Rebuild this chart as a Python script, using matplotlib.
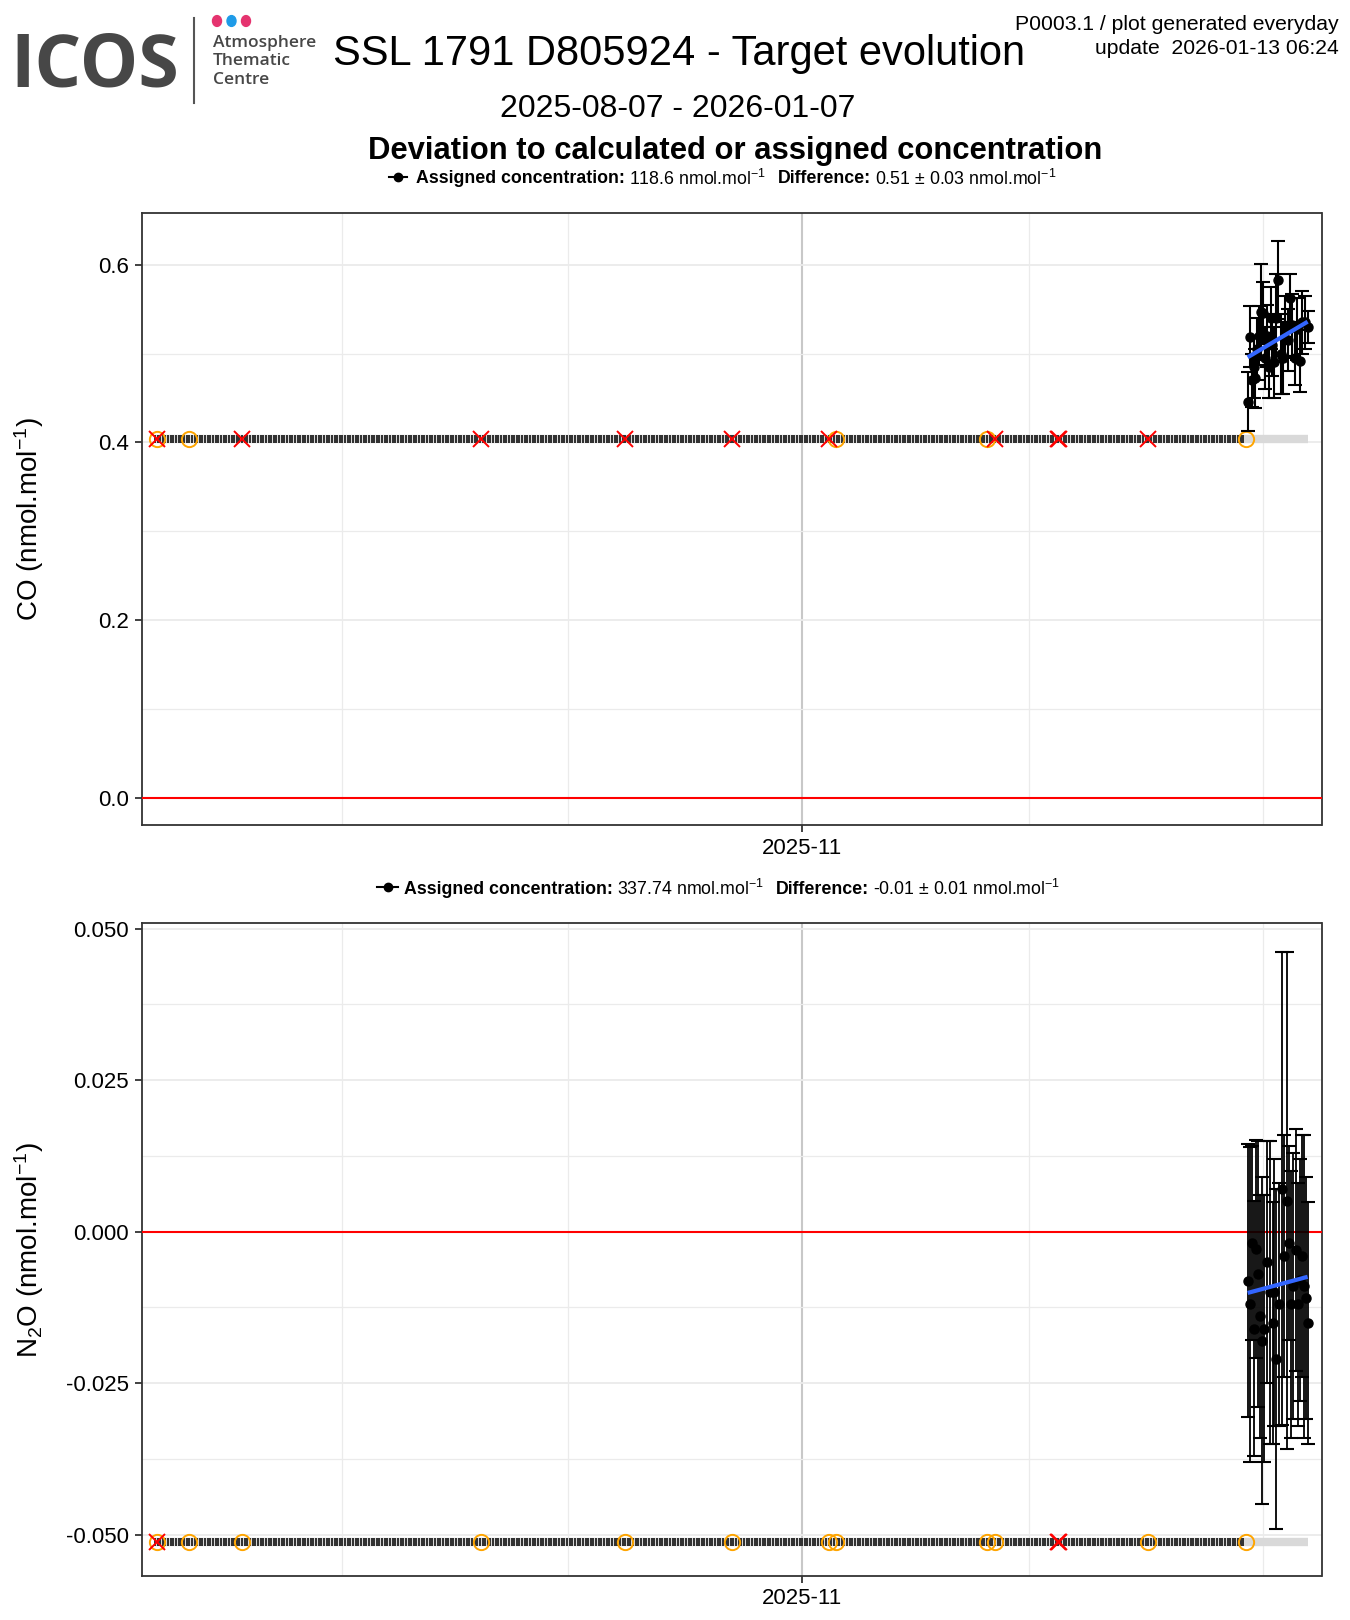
import numpy as np
import pandas as pd
import matplotlib
matplotlib.use("Agg")
from matplotlib import pyplot as plt
import matplotlib.dates as mdates
from matplotlib.lines import Line2D
from matplotlib.patches import Circle
from matplotlib.ticker import MultipleLocator, FixedLocator

plt.rcParams['font.family'] = ['Liberation Sans', 'DejaVu Sans']
plt.rcParams['mathtext.fontset'] = 'custom'
plt.rcParams['mathtext.rm'] = 'Liberation Sans'
plt.rcParams['mathtext.bf'] = 'Liberation Sans:bold'
plt.rcParams['mathtext.it'] = 'Liberation Sans:italic'

# ---- data ----
run_start = "2025-08-07 06:00"
run_stop = "2025-12-29 18:00"
band_stop = "2026-01-07 00:00"
run_times = pd.date_range(run_start, run_stop, freq="8h24min")

event_times = pd.to_datetime([
    "2025-08-07 12:00", "2025-08-11 18:00", "2025-08-18 18:00", "2025-09-19 12:00",
    "2025-10-08 12:00", "2025-10-22 18:00", "2025-11-04 14:00", "2025-11-05 12:00",
    "2025-11-25 12:00", "2025-11-26 12:00", "2025-12-04 20:00", "2025-12-05 02:00",
    "2025-12-16 18:00", "2025-12-29 18:00"])
co_flags = ["xo", "o", "x", "x", "x", "x", "x", "o", "o", "x", "x", "x", "x", "o"]
n2o_flags = ["xo", "o", "o", "o", "o", "o", "o", "o", "o", "o", "x", "x", "o", "o"]

day0 = pd.Timestamp("2026-01-01")
co_days = [-1.98, -1.72, -1.45, -1.20, -0.95, -0.70, -0.45, -0.22, 0.05, 0.30,
           0.55, 0.80, 1.05, 1.30, 1.55, 1.80, 2.10, 2.40, 2.70, 3.00,
           3.30, 3.60, 3.90, 4.25, 4.60, 4.90, 5.25, 5.60, 5.96]
co_dev = [0.446, 0.519, 0.470, 0.485, 0.472, 0.505, 0.520, 0.547, 0.546, 0.495,
          0.520, 0.485, 0.540, 0.510, 0.490, 0.540, 0.583, 0.500, 0.495, 0.530,
          0.515, 0.562, 0.532, 0.495, 0.528, 0.492, 0.535, 0.535, 0.530]
co_err = [0.033, 0.034, 0.030, 0.035, 0.033, 0.035, 0.033, 0.054, 0.035, 0.035,
          0.035, 0.035, 0.035, 0.035, 0.040, 0.050, 0.044, 0.045, 0.040, 0.035,
          0.035, 0.027, 0.035, 0.030, 0.035, 0.035, 0.035, 0.030, 0.018]

n2o_days = [-1.98, -1.63, -1.45, -1.20, -0.88, -0.57, -0.35, -0.13,
            0.23, 0.62, 0.98, 1.33, 1.55, 1.77, 2.12,
            2.52, 2.87, 3.23, 3.54, 3.80, 4.07, 4.37, 4.73,
            4.95, 5.17, 5.52, 5.75, 5.96]
n2o_dev = [-0.0081, -0.0120, -0.0019, -0.0160, -0.0029, -0.0070, -0.0140, -0.0180,
           -0.0160, -0.0050, -0.0100, -0.0151, -0.0100, -0.0210, -0.0120,
           0.0071, -0.0040, 0.0051, -0.0019, -0.0120, -0.0090, -0.0030, -0.0120,
           -0.0080, -0.0040, -0.0090, -0.0110, -0.0151]
n2o_err = [0.0225, 0.026, 0.016, 0.021, 0.018, 0.022, 0.020, 0.027,
           0.022, 0.020, 0.025, 0.020, 0.022, 0.028, 0.020,
           0.039, 0.020, 0.041, 0.016, 0.022, 0.022, 0.020, 0.020,
           0.020, 0.020, 0.025, 0.020, 0.020]

co_base = 0.4035
n2o_base = -0.0512

co_assigned = "118.6"
co_diff = "0.51 ± 0.03"
n2o_assigned = "337.74"
n2o_diff = "-0.01 ± 0.01"

W, H = 1350, 1620
fig = plt.figure(figsize=(W / 100, H / 100), dpi=100)


def fx(px):
    return px / W


def fy(py):
    return 1 - py / H


def draw_panel(ax, days, dev, err, base, flags, elw):
    times = [day0 + pd.Timedelta(days=d) for d in days]
    ax.plot([pd.Timestamp(run_start), pd.Timestamp(band_stop)], [base, base],
            color='#D9D9D9', lw=6, solid_capstyle='butt', zorder=2)
    ax.plot(run_times, np.full(len(run_times), base), ls='none', marker='|',
            ms=5.5, mew=1.1, color='black', zorder=3)
    for t, f in zip(event_times, flags):
        if 'o' in f:
            ax.plot(t, base, 'o', mfc='none', mec='orange', ms=11, mew=1.4, zorder=4)
        if 'x' in f:
            ax.plot(t, base, 'x', color='red', ms=11, mew=1.4, zorder=5)
    ax.axhline(0, color='red', lw=1.5, zorder=3)
    ax.errorbar(times, dev, yerr=err, fmt='o', color='black', ms=6.5,
                capsize=5, elinewidth=elw, capthick=1.5, zorder=6)
    xn = mdates.date2num(times)
    k, b = np.polyfit(xn, dev, 1)
    xl = np.array([xn[0], xn[-1]])
    ax.plot(xl, k * xl + b, color='#3366FF', lw=3, zorder=7, solid_capstyle='butt')

    nov = pd.Timestamp("2025-11-01")
    ax.set_xlim(nov - pd.Timedelta(days=87.5), nov + pd.Timedelta(days=68.8))
    ax.xaxis.set_major_locator(FixedLocator([mdates.date2num(nov)]))
    ax.xaxis.set_major_formatter(mdates.DateFormatter("%Y-%m"))
    ax.xaxis.set_minor_locator(mdates.MonthLocator())
    ax.grid(True, which='minor', color='#EBEBEB', lw=0.9, zorder=0)
    ax.grid(True, which='major', axis='y', color='#EBEBEB', lw=1.3, zorder=0)
    ax.grid(True, which='major', axis='x', color='#C8C8C8', lw=1.5, zorder=0)
    ax.set_axisbelow(True)
    for s in ax.spines.values():
        s.set_color('#333333')
        s.set_linewidth(1.3)
    ax.tick_params(which='major', length=5, width=1.3, color='#333333',
                   labelsize=16, labelcolor='black', pad=4)
    ax.tick_params(which='minor', length=0)
    ax.yaxis.set_label_coords(-0.081, 0.5)


ax1 = fig.add_axes([fx(141.7), fy(825), fx(1321.5 - 141.7), (825 - 213) / H])
draw_panel(ax1, co_days, co_dev, co_err, co_base, co_flags, 1.5)
ax1.set_ylim(-0.0302, 0.6581)
ax1.yaxis.set_major_locator(MultipleLocator(0.2))
ax1.yaxis.set_minor_locator(MultipleLocator(0.1))
ax1.yaxis.set_major_formatter(plt.FormatStrFormatter('%.1f'))
ax1.set_ylabel(r"CO (nmol.mol$^{-1}$)", fontsize=20)

ax2 = fig.add_axes([fx(141.7), fy(1576), fx(1321.5 - 141.7), (1576 - 923.4) / H])
draw_panel(ax2, n2o_days, n2o_dev, n2o_err, n2o_base, n2o_flags, 1.3)
ax2.set_ylim(-0.05683, 0.05085)
ax2.yaxis.set_major_locator(MultipleLocator(0.025))
ax2.yaxis.set_minor_locator(MultipleLocator(0.0125))
ax2.yaxis.set_major_formatter(plt.FormatStrFormatter('%.3f'))
ax2.set_ylabel(r"N$_2$O (nmol.mol$^{-1}$)", fontsize=20)

# legends above each panel, written piece by piece
renderer = fig.canvas.get_renderer()


def legend_row(lx0, lx1, ly, tx, assigned, diff):
    fig.add_artist(Line2D([fx(lx0), fx(lx1)], [fy(ly), fy(ly)], color='black', lw=1.5))
    fig.add_artist(Line2D([fx((lx0 + lx1) / 2)], [fy(ly)], color='black', marker='o', ms=6))
    parts = [("Assigned concentration:", 'bold', 4),
             (assigned + r" nmol.mol$^{-1}$", 'normal', 12),
             ("Difference:", 'bold', 4),
             (diff + r" nmol.mol$^{-1}$", 'normal', 0)]
    x = tx
    for s, wt, gap in parts:
        t = fig.text(fx(x), fy(ly), s, fontsize=12.8, fontweight=wt, ha='left', va='center_baseline')
        x += t.get_window_extent(renderer).width + gap


legend_row(389, 407, 176.8, 415.7, co_assigned, co_diff)
legend_row(377.4, 398, 887, 404.3, n2o_assigned, n2o_diff)

# titles
fig.text(0.503, fy(65.1), "SSL 1791 D805924 - Target evolution", fontsize=30,
         ha='center', va='baseline')
fig.text(0.502, fy(117), "2025-08-07 - 2026-01-07", fontsize=23, ha='center', va='baseline')
fig.text(0.5444, fy(158.5), "Deviation to calculated or assigned concentration", fontsize=22.3,
         fontweight='bold', ha='center', va='baseline')
fig.text(fx(1339), fy(30), "P0003.1 / plot generated everyday", fontsize=15.2,
         ha='right', va='baseline')
fig.text(fx(1339), fy(54), "update  2026-01-13 06:24", fontsize=15.2, ha='right', va='baseline')

# ICOS logo
fig.text(fx(10), fy(86.2), "ICOS", fontsize=53, fontweight='bold', family='Open Sans',
         color='#474747', ha='left', va='baseline')
fig.add_artist(Line2D([fx(194), fx(194)], [fy(17.6), fy(102.8)], color='#555555', lw=1.5))
for cx, col in [(217, '#E5336F'), (231.5, '#1E9BE8'), (246, '#E5336F')]:
    fig.add_artist(Circle((fx(cx), fy(21)), 4.5 / W, color=col, transform=fig.transFigure))
for row, by in [("Atmosphere", 46.7), ("Thematic", 65.4), ("Centre", 84.1)]:
    fig.text(fx(213), fy(by), row, fontsize=12.5, fontweight='semibold', family='Open Sans',
             color='#474747', ha='left', va='baseline')

plt.savefig("out.png", dpi=100)
